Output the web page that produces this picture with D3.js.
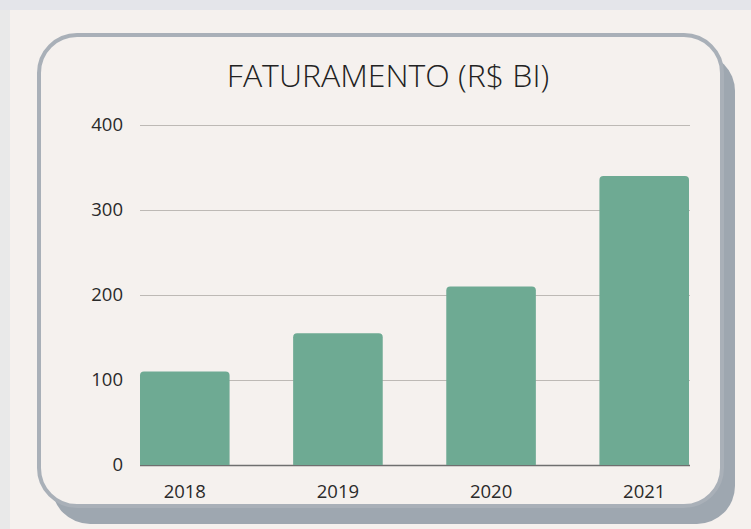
<!DOCTYPE html>
<html>
<head>
<meta charset="utf-8">
<script src="https://cdn.jsdelivr.net/npm/d3@7"></script>
<style>
  body { margin: 0; background: #e9e9ea; }
  svg { display: block; font-family: "Open Sans", "Noto Sans", sans-serif; }
</style>
</head>
<body>
<div id="chart"></div>
<script>
var years = ["2018", "2019", "2020", "2021"];
var revenue = [110, 155, 210, 340];
var yTicks = [0, 100, 200, 300, 400];
var title = "FATURAMENTO (R$ BI)";

var W = 751, H = 529;

var svg = d3.select("#chart")
    .append("svg")
    .attr("width", W)
    .attr("height", H);

// page background strips + panel
svg.append("rect").attr("x", 0).attr("y", 0).attr("width", W).attr("height", 10).attr("fill", "#e4e5ea");
svg.append("rect").attr("x", 0).attr("y", 10).attr("width", 10).attr("height", H).attr("fill", "#e9e9e9");
svg.append("rect").attr("x", 10).attr("y", 10).attr("width", W - 10).attr("height", H - 10).attr("fill", "#f5f1ee");

// card with shadow
var card = {x: 39, y: 35, w: 683, h: 471, r: 38};
svg.append("rect")
    .attr("x", card.x + 13).attr("y", card.y + 18)
    .attr("width", card.w).attr("height", card.h)
    .attr("rx", card.r)
    .attr("fill", "#9ea7b0");
svg.append("rect")
    .attr("x", card.x).attr("y", card.y)
    .attr("width", card.w).attr("height", card.h)
    .attr("rx", card.r)
    .attr("fill", "#f5f1ee")
    .attr("stroke", "#a9b0b8")
    .attr("stroke-width", 4);

svg.append("text")
    .attr("x", 388)
    .attr("y", 87)
    .attr("text-anchor", "middle")
    .attr("font-size", 32)
    .attr("font-weight", 300)
    .attr("fill", "#222")
    .text(title);

var x = d3.scaleBand()
    .domain(years)
    .range([140, 689])
    .paddingInner(0.415)
    .paddingOuter(0);

var y = d3.scaleLinear()
    .domain([0, 400])
    .range([465, 125]);

// Y axis + grid
var yAxis = svg.append("g")
    .attr("transform", "translate(140,0)")
    .call(d3.axisLeft(y).tickValues(yTicks).tickSize(-550).tickPadding(17));
yAxis.select(".domain").remove();
yAxis.selectAll(".tick line")
    .attr("stroke", function(d) { return d === 0 ? "#6f6f6f" : "#bdb9b5"; })
    .attr("stroke-width", function(d) { return d === 0 ? 1.5 : 1; });
yAxis.selectAll(".tick text")
    .attr("font-size", 18.5)
    .attr("fill", "#2a2a2a")
    .style("font-family", "'Open Sans', sans-serif");

// bars, rounded top corners
var rr = 4;
svg.append("g")
    .selectAll("path")
    .data(revenue)
    .enter()
    .append("path")
    .attr("d", function(d, i) {
        var x0 = x(years[i]), x1 = x0 + x.bandwidth();
        var y0 = y(0), y1 = y(d);
        return "M" + x0 + "," + y0 +
            "V" + (y1 + rr) +
            "Q" + x0 + "," + y1 + " " + (x0 + rr) + "," + y1 +
            "H" + (x1 - rr) +
            "Q" + x1 + "," + y1 + " " + x1 + "," + (y1 + rr) +
            "V" + y0 + "Z";
    })
    .attr("fill", "#6eaa93");

// X axis
var xAxis = svg.append("g")
    .attr("transform", "translate(0,465)")
    .call(d3.axisBottom(x).tickSize(0));
xAxis.select(".domain").remove();
xAxis.selectAll(".tick text")
    .attr("y", 33)
    .attr("dy", null)
    .attr("font-size", 18.5)
    .attr("fill", "#2a2a2a")
    .style("font-family", "'Open Sans', sans-serif");
</script>
</body>
</html>
